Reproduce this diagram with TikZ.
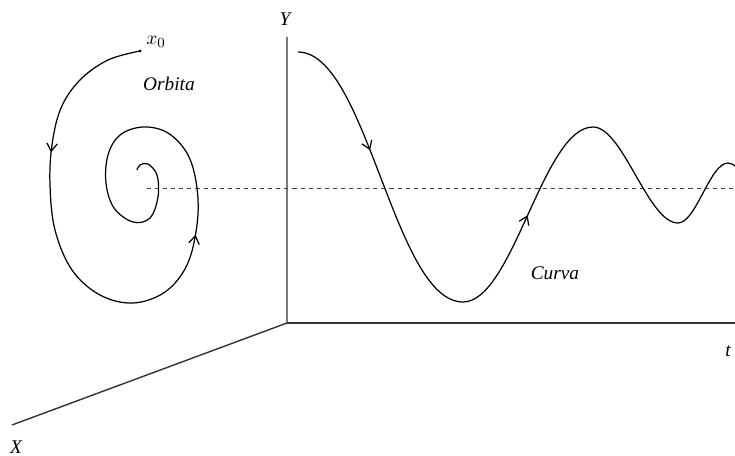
\documentclass[tikz,border=0pt]{standalone}
\usepackage{fontspec}
\setmainfont{Liberation Serif}
\usepackage{tikz}
\usetikzlibrary{arrows.meta,decorations.markings}

\begin{document}
\begin{tikzpicture}[
    x=0.02cm, y=-0.02cm,
    >={Straight Barb[length=4.5pt,width=6pt]},
    axis/.style={line width=0.8pt, color=black!80},
    trace/.style={line width=0.7pt},
    guide/.style={line width=0.5pt, dash pattern=on 2.3pt off 2.3pt, color=black!75},
    lbl/.style={font=\fontsize{11}{13}\selectfont\itshape, inner sep=1pt}
]
    \useasboundingbox (0,0) rectangle (735,456);
    \clip (0,0) rectangle (735,456);

    % axes
    \coordinate (O) at (287,323);
    \coordinate (ytop) at (287,37);
    \coordinate (tend) at (740,323);
    \coordinate (xend) at (12,425);
    \draw[axis] (xend) -- (O) -- (ytop);
    \draw[axis] (O) -- (tend);
    \node[lbl] (ylab) at (285,19) {Y};
    \node[lbl] (xlab) at (16,447) {X};
    \node[lbl] (tlab) at (728,351) {t};

    % equilibrium level
    \coordinate (eqL) at (147,188);
    \coordinate (eqR) at (740,188);
    \draw[guide] (eqL) -- (eqR);

    % orbit (spiral)
    \coordinate (x0) at (140,51);
    \fill (x0) circle (1.6);
    \node[lbl, font=\fontsize{11}{13}\selectfont] (x0lab) at (156,42) {$x_0$};
    \draw[trace, postaction={decorate}, decoration={markings,
            mark=at position 2.95cm with {\arrow{>}},
            mark=at position 8.85cm with {\arrow{>}}}]
        plot[smooth, tension=0.6] coordinates {
            (140,51) (108,60) (80,80) (61,108) (52,145) (50,185) (55,230)
            (72,270) (100,295) (133,303) (165,292) (187,265) (197,225)
            (197,188) (188,155) (168,133) (143,127) (120,135) (108,155)
            (106,183) (114,208) (133,222) (150,218) (158,197) (157,175)
            (148,164) (140,165) (137,170)};
    \node[lbl] (orb) at (169,84) {Orbita};

    % solution curve
    \coordinate (c0) at (298,52);
    \coordinate (c1) at (463,302);
    \coordinate (c2) at (593,127);
    \coordinate (c3) at (678,223);
    \coordinate (c4) at (728,163);
    \draw[trace, postaction={decorate}, decoration={markings,
            mark=at position 2.55cm with {\arrow{>}},
            mark=at position 8.5cm with {\arrow{>}}}]
        (c0) .. controls (367,52) and (394,302) .. (c1)
             .. controls (513,302) and (543,127) .. (c2)
             .. controls (623,127) and (648,223) .. (c3)
             .. controls (696,223) and (710,163) .. (c4)
             .. controls (740,163) and (750,190) .. (770,215);
    \node[lbl] (curv) at (555,273) {Curva};
\end{tikzpicture}
\end{document}
